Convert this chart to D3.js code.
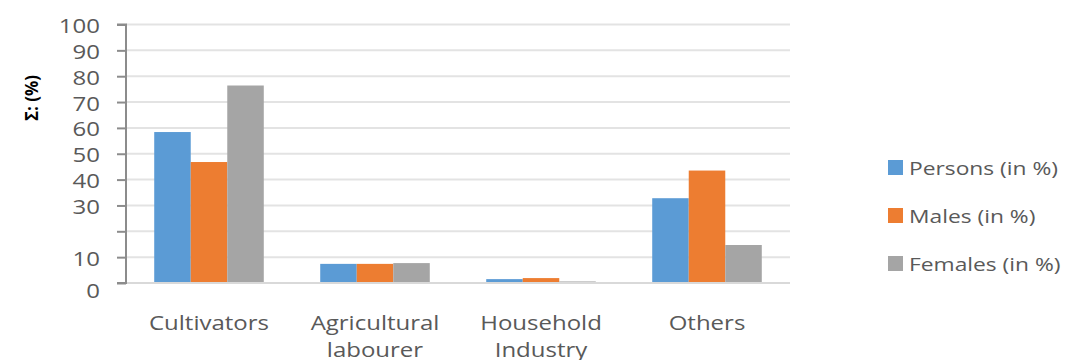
<!DOCTYPE html>
<html>
<head>
<meta charset="utf-8">
<script src="https://cdn.jsdelivr.net/npm/d3@7"></script>
<style>
  body { margin: 0; background: #fff; }
  text { font-family: "Open Sans", sans-serif; fill: #595959; }
</style>
</head>
<body>
<script>
(function(){

    //chart data
    var categories = ["Cultivators", "Agricultural labourer", "Household Industry", "Others"];
    var seriesNames = ["Persons (in %)", "Males (in %)", "Females (in %)"];
    var persons = [58.4, 7.4, 1.5, 32.8];
    var males = [46.8, 7.4, 1.9, 43.5];
    var females = [76.4, 7.7, 0.6, 14.7];
    var yTicks = [0, 10, 20, 30, 40, 50, 60, 70, 80, 90, 100];
    var colors = ["#5b9bd5", "#ed7d31", "#a5a5a5"];

    //text in the picture is a little stretched sideways
    var stretch = 1.2;

    window.onload = setChart();

    function setChart(){
        var width = 1065,
            height = 360,
            left = 126,
            right = 790,
            top = 24.5,
            bottom = 283;

        var svg = d3.select("body")
            .append("svg")
            .attr("width", width)
            .attr("height", height);

        var seriesData = [persons, males, females];

        var x = d3.scaleBand()
            .domain(categories)
            .range([left, right])
            .paddingInner(0.34)
            .paddingOuter(0.17);

        var x1 = d3.scaleBand()
            .domain(d3.range(seriesNames.length))
            .range([0, x.bandwidth()]);

        var y = d3.scaleLinear()
            .domain([0, 100])
            .range([bottom, top]);

        //gridlines
        svg.selectAll(".grid")
            .data(yTicks.slice(1))
            .enter()
            .append("line")
            .attr("class", "grid")
            .attr("x1", left)
            .attr("x2", right)
            .attr("y1", function(d){ return y(d); })
            .attr("y2", function(d){ return y(d); })
            .style("stroke", "#e3e3e3")
            .style("stroke-width", 2);

        //bars
        var groups = svg.selectAll(".group")
            .data(categories)
            .enter()
            .append("g")
            .attr("transform", function(d){ return "translate(" + x(d) + ",0)"; });

        groups.selectAll("rect")
            .data(function(d, i){
                return seriesData.map(function(s, j){ return {s: j, v: s[i]}; });
            })
            .enter()
            .append("rect")
            .attr("x", function(d){ return x1(d.s); })
            .attr("width", x1.bandwidth())
            .attr("y", function(d){ return y(d.v); })
            .attr("height", function(d){ return y(0) - y(d.v); })
            .style("fill", function(d){ return colors[d.s]; });

        //baseline
        svg.append("line")
            .attr("x1", left)
            .attr("x2", right)
            .attr("y1", y(0))
            .attr("y2", y(0))
            .style("stroke", "#d9d9d9")
            .style("stroke-width", 2);

        //y axis
        var yAxis = svg.append("g")
            .attr("transform", "translate(" + left + ",0)")
            .call(d3.axisLeft(y)
                .tickValues(yTicks)
                .tickSize(9)
                .tickPadding(26 / stretch - 9)
                .tickFormat(function(d){ return d == 20 ? "" : d; }));

        yAxis.select(".domain")
            .attr("d", "M-9," + y(100) + "H0V" + y(0) + "H-9")
            .style("stroke", "#8c8c8c")
            .style("stroke-width", 2);
        yAxis.selectAll(".tick line")
            .style("stroke", "#8c8c8c")
            .style("stroke-width", 2);
        yAxis.selectAll(".tick text")
            .attr("transform", "scale(" + stretch + ",1)")
            .style("font-size", "20px")
            .style("font-family", "Open Sans, sans-serif")
            .style("fill", "#595959")
            .attr("dy", function(d){ return d == 0 ? "0.7em" : "0.4em"; });

        //y axis title
        svg.append("text")
            .attr("transform", "translate(38,98) rotate(-90)")
            .attr("text-anchor", "middle")
            .style("font-size", "17px")
            .style("font-weight", "bold")
            .style("fill", "#000")
            .text("Σ: (%)");

        //category labels
        var labels = svg.selectAll(".catLabel")
            .data(categories)
            .enter()
            .append("text")
            .attr("class", "catLabel")
            .attr("text-anchor", "middle")
            .attr("transform", function(d){
                return "translate(" + (x(d) + x.bandwidth() / 2) + ",330) scale(" + stretch + ",1)";
            })
            .style("font-size", "20px");

        labels.each(function(d){
            var words = d.split(" ");
            var t = d3.select(this);
            words.forEach(function(w, i){
                t.append("tspan")
                    .attr("x", 0)
                    .attr("dy", i == 0 ? 0 : 27)
                    .text(w);
            });
        });

        //legend
        var legend = svg.selectAll(".legend")
            .data(seriesNames)
            .enter()
            .append("g")
            .attr("transform", function(d, i){ return "translate(888," + (160 + i * 48) + ")"; });

        legend.append("rect")
            .attr("width", 15)
            .attr("height", 15)
            .style("fill", function(d, i){ return colors[i]; });

        legend.append("text")
            .attr("transform", "translate(21,8) scale(" + stretch + ",1)")
            .attr("dy", "0.35em")
            .style("font-size", "19px")
            .text(function(d){ return d; });
    };

})();
</script>
</body>
</html>
